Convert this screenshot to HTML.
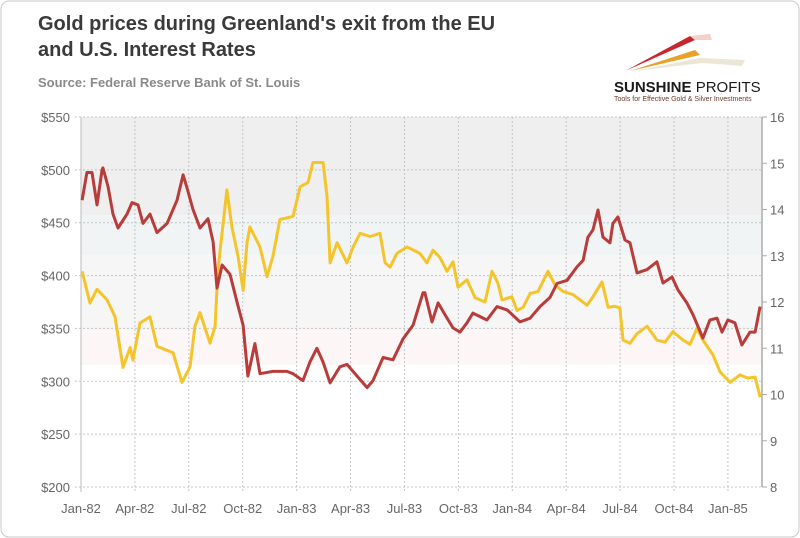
<!DOCTYPE html>
<html><head><meta charset="utf-8"><style>
body{margin:0;background:#fff;}
#wrap{position:relative;width:800px;height:538px;overflow:hidden;font-family:"Liberation Sans",sans-serif;}
</style></head><body>
<div id="wrap">
<svg id="chart" width="800" height="538">
<rect x="1" y="1" width="798" height="536" rx="8" fill="#fff" stroke="#c8c8c8"/>
<text x="38" y="30" font-size="20" font-weight="bold" fill="#3a3a3a">Gold prices during Greenland's exit from the EU</text>
<text x="38" y="56" font-size="20" font-weight="bold" fill="#3a3a3a">and U.S. Interest Rates</text>
<text x="38" y="87" font-size="13" font-weight="bold" fill="#8a8a8a">Source: Federal Reserve Bank of St. Louis</text>
<g>
<polygon points="625,71 690,36 695,40" fill="#c9252c"/>
<polygon points="630,71 695,50 700,55" fill="#e8a22a"/>
<polygon points="635,71 700,58 745,60 742,66 702,63" fill="#ece6d6"/>
<polygon points="690,36 710,34 712,40 695,40" fill="#f3d0c8"/>
<text x="614" y="92" font-size="15" font-weight="bold" fill="#1a1a1a">SUNSHINE <tspan font-weight="normal">PROFITS</tspan></text>
<text x="614" y="101" font-size="7" fill="#6b3a2a">Tools for Effective Gold &amp; Silver Investments</text>
</g>
<g id="bands"></g><g id="grid"></g><g id="axes"></g><g id="series"></g>
</svg>
</div>
<script>
const goldMonths=[0.06,0.5,0.89,1.45,1.89,2.34,2.73,2.89,3.28,3.84,4.23,5.12,5.62,6.07,6.34,6.62,7.18,7.46,7.62,8.12,8.4,8.74,9.02,9.24,9.4,9.96,10.35,10.68,11.07,11.8,12.19,12.63,12.91,13.47,13.69,13.86,14.25,14.8,15.14,15.53,16.08,16.64,16.92,17.2,17.58,18.14,18.86,19.25,19.59,19.98,20.37,20.7,20.98,21.48,21.93,22.48,22.87,23.2,23.43,23.98,24.26,24.6,24.99,25.43,25.99,26.38,26.82,27.38,28.16,28.49,28.99,29.33,29.72,29.99,30.16,30.55,30.94,31.5,32.05,32.5,32.94,33.5,33.89,34.28,34.61,35.17,35.56,36.12,36.67,37.12,37.51,37.79];
const goldValues=[404,374,387,377,361,313,332,320,355,361,333,327,299,314,352,365,336,352,405,481,446,418,386,431,446,427,399,418,453,456,484,488,507,507,475,412,431,412,427,440,437,440,412,408,421,427,421,412,424,417,404,413,389,396,379,375,404,393,377,380,367,370,383,385,404,391,385,382,372,380,394,370,371,369,339,336,345,352,339,337,347,339,335,350,339,325,309,299,306,303,304,285];
const rateMonths=[0.06,0.33,0.61,0.89,1.17,1.22,1.5,1.78,2.06,2.56,2.84,3.17,3.45,3.84,4.23,4.79,5.34,5.68,5.95,6.23,6.62,7.07,7.35,7.57,7.85,8.29,8.68,9.02,9.29,9.68,9.96,10.68,11.46,11.8,12.35,12.74,13.13,13.47,13.86,14.41,14.8,15.36,15.92,16.25,16.81,17.36,17.92,18.48,19.03,19.14,19.53,19.87,20.26,20.7,21.09,21.48,21.81,22.59,23.15,23.71,24.43,24.99,25.54,26.1,26.49,27.05,27.6,27.94,28.21,28.49,28.77,29.05,29.44,29.6,29.88,30.27,30.55,30.94,31.5,32.05,32.39,32.89,33.22,33.72,34.06,34.61,35.0,35.39,35.67,36.0,36.39,36.78,37.23,37.51,37.79];
const rateValues=[14.2,14.8,14.8,14.1,14.85,14.9,14.5,13.9,13.6,13.9,14.15,14.1,13.7,13.9,13.5,13.7,14.2,14.75,14.4,14.0,13.6,13.8,13.3,12.3,12.8,12.6,12.0,11.5,10.4,11.1,10.45,10.5,10.5,10.45,10.3,10.7,11.0,10.7,10.25,10.6,10.65,10.4,10.15,10.3,10.8,10.75,11.2,11.5,12.2,12.2,11.57,11.98,11.72,11.44,11.35,11.55,11.76,11.61,11.9,11.83,11.57,11.65,11.9,12.1,12.4,12.47,12.76,12.9,13.4,13.56,13.99,13.4,13.28,13.7,13.84,13.34,13.28,12.63,12.7,12.87,12.41,12.54,12.26,11.98,11.72,11.22,11.61,11.65,11.35,11.61,11.55,11.07,11.35,11.35,11.9];
const xTickLabels=["Jan-82","Apr-82","Jul-82","Oct-82","Jan-83","Apr-83","Jul-83","Oct-83","Jan-84","Apr-84","Jul-84","Oct-84","Jan-85"];
const leftTicks=[200,250,300,350,400,450,500,550];
const rightTicks=[8,9,10,11,12,13,14,15,16];

const NS="http://www.w3.org/2000/svg";
const L=81,R=761,T=117,B=487;
const xs=m=>L+m*17.97;
const yL=v=>B-(v-200)/350*(B-T);
const yR=v=>B-(v-8)/8*(B-T);
function mk(tag,attrs,parent){const e=document.createElementNS(NS,tag);for(const k in attrs)e.setAttribute(k,attrs[k]);document.getElementById(parent).appendChild(e);return e;}

let b;
b=mk('rect',{x:L,y:T,width:R-L,height:98,fill:'#efefef'},'bands');


b=mk('rect',{x:L,y:215,width:R-L,height:40,fill:'#f1f4f4'},'bands');


b=mk('rect',{x:L,y:255,width:R-L,height:75,fill:'#f6f6f6'},'bands');


b=mk('rect',{x:L,y:330,width:R-L,height:35,fill:'#fcf6f6'},'bands');



leftTicks.forEach(v=>{
  const y=yL(v);
  const g=mk('line',{x1:L-6,x2:R,y1:y,y2:y,stroke:'#c4c4c4','stroke-dasharray':'2,2'},'grid');
  
  
  const t=mk('text',{x:70,y:y+5,'text-anchor':'end','font-size':13,fill:'#666'},'axes');
  
  
  t.textContent='$'+v;
});
xTickLabels.forEach((s,i)=>{
  const x=xs(i*3);
  const g=mk('line',{x1:x,x2:x,y1:T,y2:B+5,stroke:'#c4c4c4','stroke-dasharray':'2,2'},'grid');
  
  
  const t=mk('text',{x:x,y:513,'text-anchor':'middle','font-size':13,fill:'#666'},'axes');
  
  
  t.textContent=s;
});
let ax=mk('line',{x1:L,x2:L,y1:T,y2:B+5,stroke:'#bbb'},'axes');


ax=mk('line',{x1:R+1,x2:R+1,y1:T,y2:B,stroke:'#aaa','stroke-width':1.5},'axes');


rightTicks.forEach(v=>{
  const y=yR(v);
  const tk=mk('line',{x1:R+1,x2:R+6,y1:y,y2:y,stroke:'#aaa'},'axes');
  
  
  const t=mk('text',{x:770,y:y+5,'font-size':13,fill:'#666'},'axes');
  
  
  t.textContent=v;
});
const gp=goldMonths.map((m,i)=>xs(m).toFixed(1)+','+yL(goldValues[i]).toFixed(1)).join(' ');
const gl=mk('polyline',{points:gp,fill:'none',stroke:'#f5c42a','stroke-width':3,'stroke-linejoin':'round'},'series');


const rp=rateMonths.map((m,i)=>xs(m).toFixed(1)+','+yR(rateValues[i]).toFixed(1)).join(' ');
const rl=mk('polyline',{points:rp,fill:'none',stroke:'#b83c3a','stroke-width':3,'stroke-linejoin':'round'},'series');


</script>
</body></html>
